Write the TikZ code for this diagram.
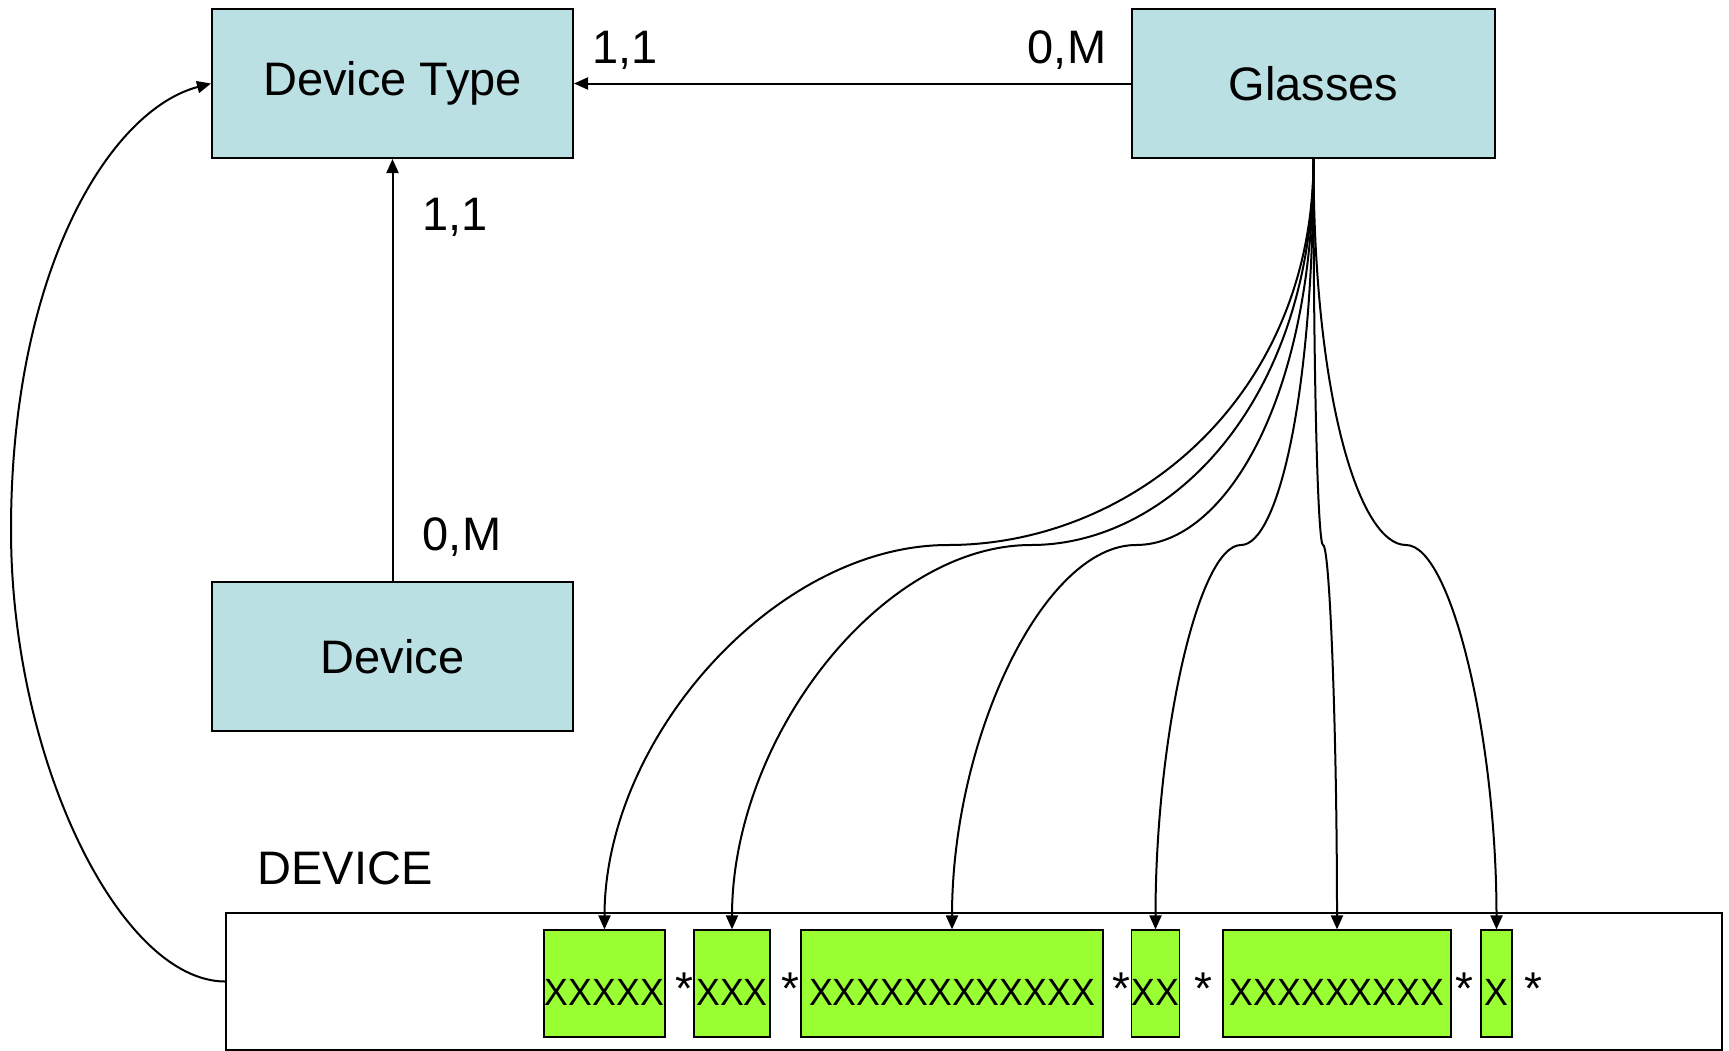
\documentclass[tikz,border=0pt]{standalone}
\usepackage{fontspec}
\setmainfont{Liberation Sans}
\usetikzlibrary{arrows.meta,positioning,calc}

\definecolor{entblue}{HTML}{BBE0E3}
\definecolor{fieldgreen}{HTML}{99FF33}

\newcommand{\fieldtext}[1]{\raisebox{-10.75pt}[0pt][0pt]{\scalebox{0.94}[1]{#1}}}

\tikzset{
  entity/.style={shape=rectangle,draw=black,line width=1pt,fill=entblue,
    minimum width=180.5pt,minimum height=74.5pt,inner sep=0pt,
    font=\fontsize{23.5}{28}\selectfont},
  card/.style={font=\fontsize{23.5}{28}\selectfont,inner sep=0pt},
  field/.style={shape=rectangle,draw=black,line width=0.6pt,fill=fieldgreen,
    minimum height=53.5pt,inner sep=0pt,font=\fontsize{19}{22}\selectfont},
  sep/.style={anchor=base,inner sep=0pt,font=\fontsize{23}{26}\selectfont},
  link/.style={line width=1pt,-{Triangle[length=7pt,width=6pt]}}
}

\begin{document}
\begin{tikzpicture}[x=0.5pt,y=-0.5pt]
    \useasboundingbox (0,0) rectangle (1729,1050);
    \node[entity] (dt) at (392.5,83.5) {Device Type};
    \node[entity,minimum width=181.5pt] (gl) at (1313.5,83.5) {Glasses};
    \node[entity] (dev) at (392.5,656.5) {Device};
    \node[card] (c1) at (625,50) {1,1};
    \node[card] (c2) at (1067,50) {0,M};
    \node[card] (c3) at (455,217) {1,1};
    \node[card] (c4) at (462,537) {0,M};
    \node[card] (rec) at (345,868) {DEVICE};
    % record layout
    \node[shape=rectangle,draw=black,line width=0.9pt,fill=white,
          minimum width=748pt,minimum height=68.5pt] (bar) at (974,981.5) {};
    \node[field,minimum width=60.5pt] (b1) at (604.5,983.5) {\fieldtext{XXXXX}};
    \node[field,minimum width=38pt] (b2) at (732,983.5) {\fieldtext{XXX}};
    \node[field,minimum width=151pt] (b3) at (952,983.5) {\fieldtext{XXXXXXXXXXXX}};
    \node[field,minimum width=23.5pt] (b4) at (1155.5,983.5) {\fieldtext{XX}};
    \node[field,minimum width=114pt] (b5) at (1337,983.5) {\fieldtext{XXXXXXXXX}};
    \node[field,minimum width=15.5pt] (b6) at (1496.5,983.5) {\fieldtext{X}};
    \foreach \i/\x in {1/684, 2/790, 3/1121, 4/1203, 5/1464, 6/1533}
        \node[sep] (s\i) at (\x,1004) {*};
    %\path [->](dev) (dt);
    \path [link](gl) edge (dt);
    \path [link](dev) edge (dt);
    \coordinate (lft) at (11,530);
    \draw[link] (bar.west) .. controls (120,981) and (11,760) .. (lft)
        .. controls (11,270) and (110,110) .. (dt.west);
    \foreach \i/\mx in {1/948, 2/1031, 3/1136, 4/1241, 5/1323, 6/1406} {
        \coordinate (m\i) at (\mx,545);
        \draw[link] (gl.south) .. controls ($(gl.south)+(0,240)$) and ($(m\i)!0.5!(gl.south |- m\i)$) .. (m\i)
            .. controls ($(m\i)!0.5!(b\i.north |- m\i)$) and ($(b\i.north)!0.5!(b\i.north |- m\i)$) .. (b\i.north);
    }
\end{tikzpicture}
\end{document}
